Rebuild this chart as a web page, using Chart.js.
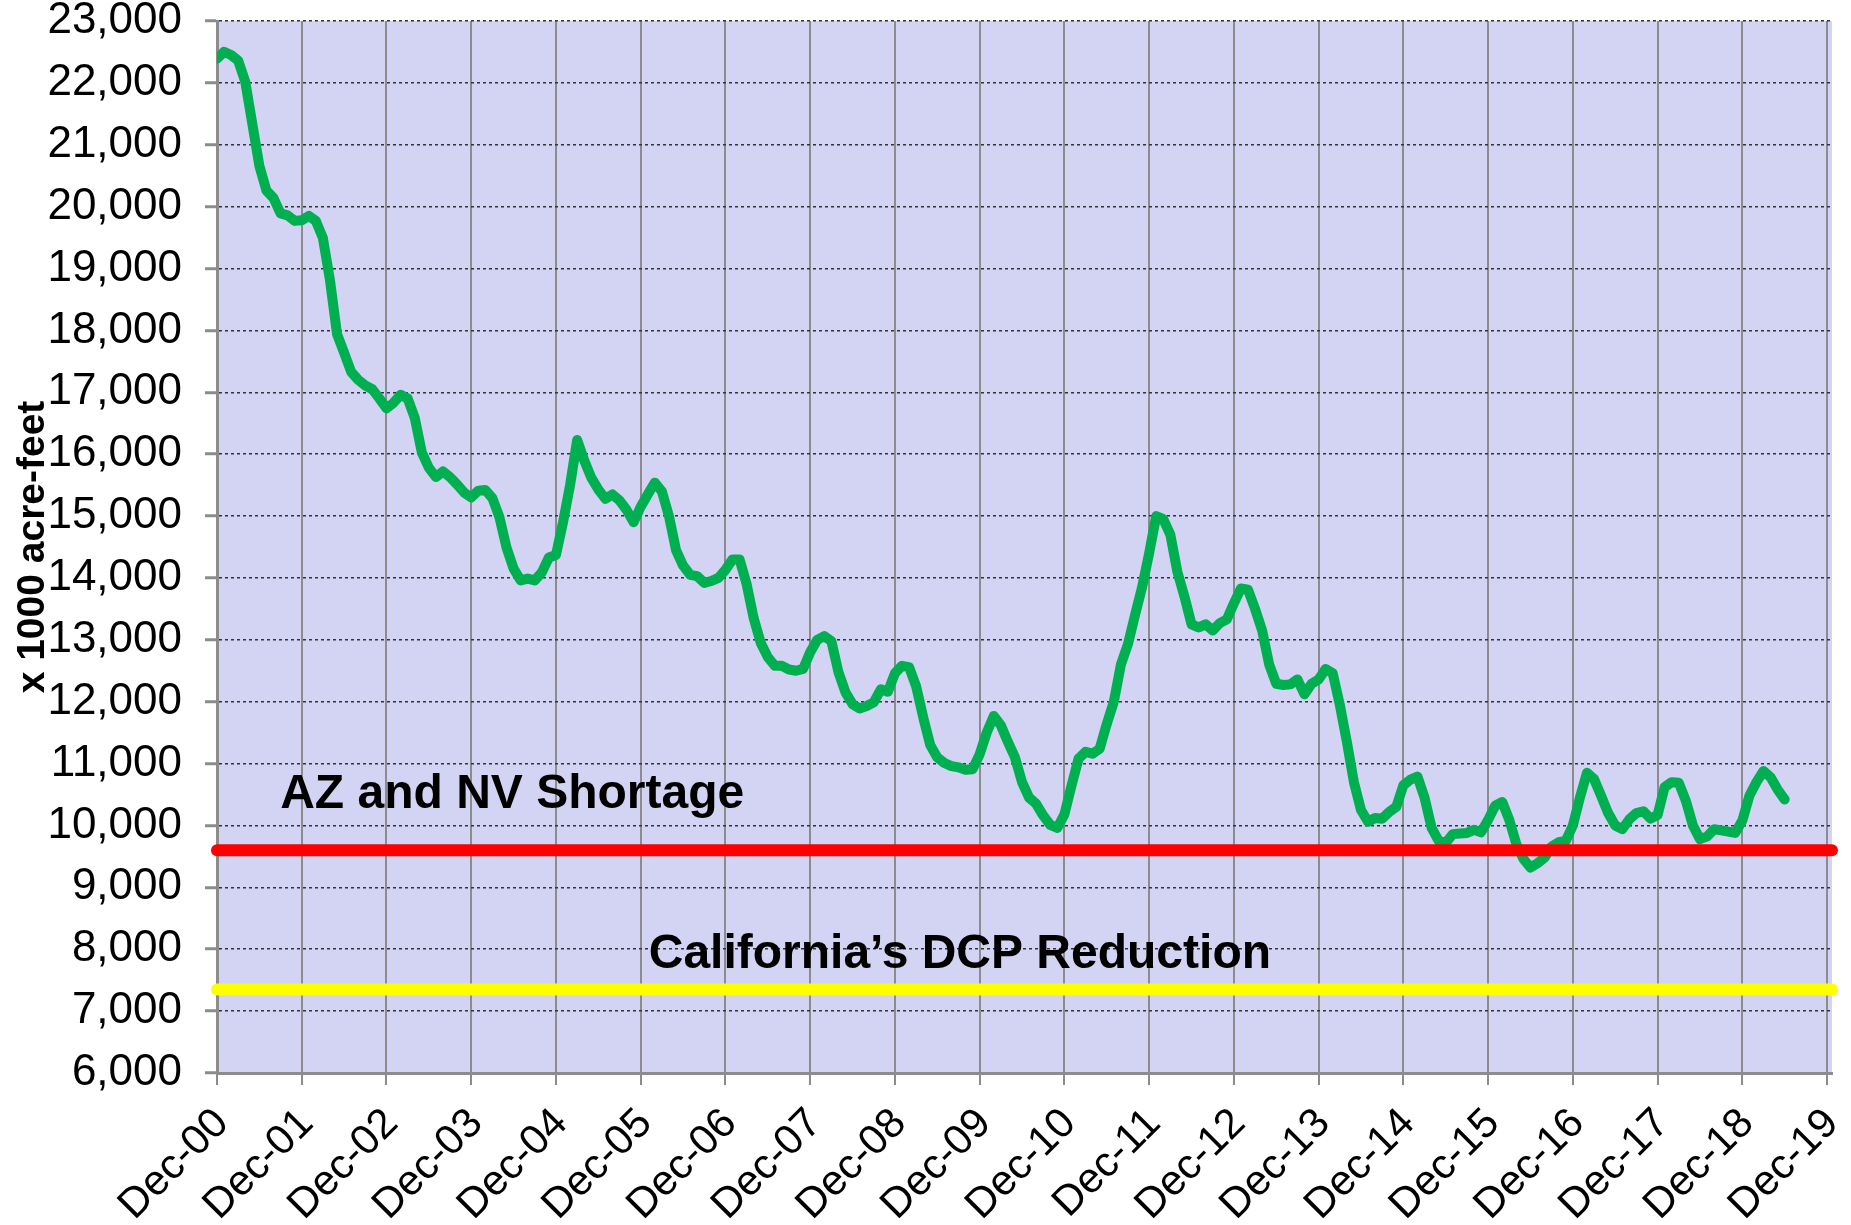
<!DOCTYPE html>
<html>
<head>
<meta charset="utf-8">
<script src="https://cdn.jsdelivr.net/npm/chart.js@4.4.1/dist/chart.umd.min.js"></script>
<style>
  html, body { margin: 0; padding: 0; background: #fff; }
  canvas { display: block; }
</style>
</head>
<body>
<canvas id="chart" width="1851" height="1225"></canvas>
<script>
// --- Data ---
// Monthly storage (x 1000 acre-feet), first value = Dec-00
const storage = [
  22390, 22500, 22450, 22360, 22020, 21340, 20660, 20260, 20140, 19890, 19860, 19770,
  19780, 19850, 19770, 19490, 18810, 17940, 17640, 17330, 17200, 17110, 17050, 16900,
  16740, 16830, 16960, 16900, 16590, 16030, 15780, 15630, 15720, 15630, 15510, 15380,
  15300, 15410, 15420, 15290, 14980, 14490, 14150, 13960, 13990, 13960, 14090, 14330,
  14370, 14900, 15500, 16230, 15900, 15620, 15430, 15280, 15350, 15250, 15100, 14900,
  15150, 15350, 15540, 15400, 15000, 14450, 14200, 14050, 14030, 13920, 13950, 14000,
  14130, 14300, 14300, 13900, 13350, 12950, 12720, 12580, 12580, 12520, 12500, 12530,
  12800, 13000, 13060, 12980, 12480, 12150, 11960, 11890, 11930, 11990, 12200, 12160,
  12460, 12580, 12560, 12250, 11750, 11300, 11100, 11010, 10960, 10940, 10900, 10910,
  11150, 11500, 11770, 11620, 11350, 11100, 10700, 10450, 10350, 10160, 10010, 9960,
  10180, 10640, 11080, 11190, 11160, 11240, 11640, 12000, 12600, 12930, 13400, 13850,
  14400, 15000, 14950, 14700, 14100, 13700, 13250, 13200, 13250, 13150, 13270, 13330,
  13590, 13830, 13810, 13500, 13150, 12600, 12290, 12270, 12280, 12360, 12120, 12290,
  12360, 12530, 12460, 11950, 11350, 10700, 10250, 10060, 10120, 10110, 10220, 10300,
  10650, 10740, 10790, 10450, 9960, 9750, 9720, 9860, 9870, 9880, 9930, 9890,
  10090, 10320, 10380, 10090, 9700, 9460, 9320, 9390, 9480, 9660, 9730, 9750,
  10000, 10450, 10850, 10750, 10480, 10200, 10000, 9940, 10100, 10200, 10230, 10110,
  10170, 10620, 10700, 10690, 10400, 10000, 9780, 9820, 9940, 9920, 9900, 9880,
  10080, 10480, 10700, 10880, 10780, 10580, 10420
];

const yearLabels = ['Dec-00', 'Dec-01', 'Dec-02', 'Dec-03', 'Dec-04', 'Dec-05', 'Dec-06',
  'Dec-07', 'Dec-08', 'Dec-09', 'Dec-10', 'Dec-11', 'Dec-12', 'Dec-13', 'Dec-14',
  'Dec-15', 'Dec-16', 'Dec-17', 'Dec-18', 'Dec-19'];

const yTicks = [6000, 7000, 8000, 9000, 10000, 11000, 12000, 13000, 14000, 15000,
  16000, 17000, 18000, 19000, 20000, 21000, 22000, 23000];

const shortageLevel = 9600;   // AZ and NV Shortage
const dcpLevel = 7350;        // California's DCP Reduction

// --- Layout / style ---
const FONT = "'Liberation Sans', Arial, sans-serif";
const X_MAX = 228.7;          // months from Dec-00, axis ends just past Dec-19
const PLOT_BG = '#D3D3F3';
const GRID_GREY = '#8c8c8c';

// text labels placed in data coordinates (month, value)
const notes = [
  { text: 'AZ and NV Shortage', x: 41.8, y: 10490 },
  { text: 'California\u2019s DCP Reduction', x: 105.2, y: 7910 }
];

const storagePoints = storage.map((v, i) => ({ x: i, y: v }));
const levelLine = v => [{ x: 0, y: v }, { x: X_MAX, y: v }];

// --- Plugins ---
const plotBackground = {
  id: 'plotBackground',
  beforeDraw(chart) {
    const { ctx, chartArea: a } = chart;
    ctx.save();
    ctx.fillStyle = PLOT_BG;
    ctx.fillRect(a.left, a.top, a.right - a.left, a.bottom - a.top);
    ctx.restore();
  }
};

const noteLabels = {
  id: 'noteLabels',
  afterDatasetsDraw(chart) {
    const { ctx, scales } = chart;
    ctx.save();
    ctx.font = `bold 48px ${FONT}`;
    ctx.fillStyle = '#000';
    ctx.textAlign = 'center';
    ctx.textBaseline = 'middle';
    notes.forEach(n => {
      ctx.fillText(n.text, scales.x.getPixelForValue(n.x), scales.y.getPixelForValue(n.y));
    });
    ctx.restore();
  }
};

// --- Chart ---
new Chart(document.getElementById('chart').getContext('2d'), {
  type: 'line',
  data: {
    datasets: [
      {
        label: 'AZ and NV Shortage',
        data: levelLine(shortageLevel),
        borderColor: '#FF0000',
        borderWidth: 12,
        borderCapStyle: 'round',
        pointRadius: 0,
        clip: false
      },
      {
        label: 'California DCP Reduction',
        data: levelLine(dcpLevel),
        borderColor: '#FFFF00',
        borderWidth: 12,
        borderCapStyle: 'round',
        pointRadius: 0,
        clip: false
      },
      {
        label: 'Storage',
        data: storagePoints,
        borderColor: '#00B050',
        borderWidth: 10,
        borderJoinStyle: 'round',
        borderCapStyle: 'round',
        pointRadius: 0,
        tension: 0
      }
    ]
  },
  options: {
    responsive: false,
    animation: false,
    devicePixelRatio: 1,
    layout: { padding: { left: 10, right: 19, top: 21, bottom: 0 } },
    plugins: {
      legend: { display: false },
      tooltip: { enabled: false }
    },
    scales: {
      x: {
        type: 'linear',
        min: 0,
        max: X_MAX,
        afterBuildTicks: s => { s.ticks = yearLabels.map((_, i) => ({ value: i * 12 })); },
        afterFit: s => {
          s.height = 152;
          s.paddingLeft = 0;
          s.paddingRight = 0;
        },
        ticks: {
          autoSkip: false,
          minRotation: 45,
          maxRotation: 45,
          padding: 14,
          labelOffset: 5,
          color: '#000',
          font: { family: FONT, size: 42 },
          callback: v => yearLabels[Math.round(v / 12)]
        },
        grid: {
          color: GRID_GREY,
          lineWidth: 2,
          tickLength: 12,
          tickColor: GRID_GREY,
          tickWidth: 2
        },
        border: { color: GRID_GREY, width: 3 }
      },
      y: {
        min: 6000,
        max: 23000,
        afterBuildTicks: s => { s.ticks = yTicks.map(v => ({ value: v })); },
        afterFit: s => {
          s.width = 207;
          s.paddingTop = 0;
          s.paddingBottom = 0;
        },
        ticks: {
          padding: 23,
          color: '#000',
          font: { family: FONT, size: 44 },
          callback: v => v.toLocaleString('en-US')
        },
        grid: {
          color: '#333',
          lineWidth: 1.5,
          tickLength: 12,
          tickColor: GRID_GREY,
          tickWidth: 3
        },
        border: { color: GRID_GREY, width: 3, dash: [3, 3] },
        title: {
          display: true,
          text: 'x 1000 acre-feet',
          color: '#000',
          font: { family: FONT, size: 39, weight: 'bold' },
          padding: { top: 0, bottom: 0 }
        }
      }
    }
  },
  plugins: [plotBackground, noteLabels]
});
</script>
</body>
</html>
